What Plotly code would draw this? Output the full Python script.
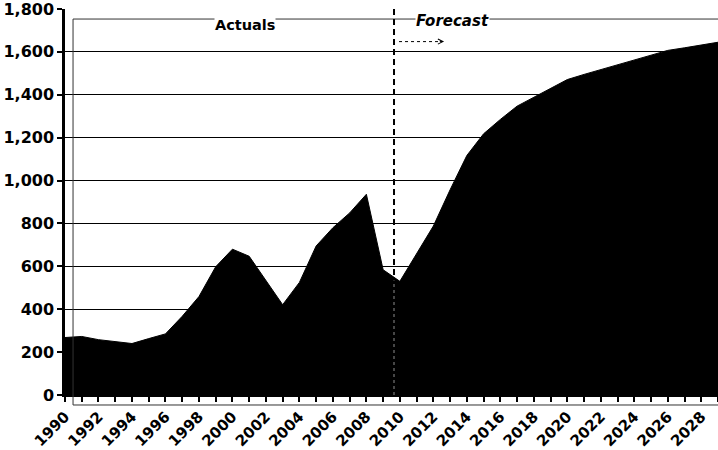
import numpy as np
import plotly.graph_objects as go

# Annual volumes: actuals through 2009, forecast from 2010
years = list(range(1990, 2030))
values = [268, 273, 258, 248, 240, 263, 285, 367, 459, 598,
          680, 647, 531, 421, 525, 695, 780, 849, 936, 584,
          530, 658, 788, 957, 1117, 1218, 1285, 1347, 1388, 1432,
          1471, 1495, 1518, 1541, 1563, 1584, 1607, 1619, 1632, 1645]

year_labels = ["1990", "", "1992", "", "1994", "", "1996", "", "1998", "",
               "2000", "", "2002", "", "2004", "", "2006", "", "2008", "",
               "2010", "", "2012", "", "2014", "", "2016", "", "2018", "",
               "2020", "", "2022", "", "2024", "", "2026", "", "2028", ""]

y_ticks = [0, 200, 400, 600, 800, 1000, 1200, 1400, 1600, 1800]
y_labels = ["0", "200", "400", "600", "800", "1,000", "1,200", "1,400", "1,600", "1,800"]

split_year = 2009.65  # boundary between actuals and forecast

fig = go.Figure()
fig.add_trace(go.Scatter(
    x=years, y=values, mode="lines", fill="tozeroy",
    line=dict(color="black", width=1), fillcolor="black",
    hoverinfo="x+y",
))

# offset frame around the plot area
frame = dict(type="line", xref="paper", yref="paper", layer="above",
             line=dict(color="#333333", width=1))
fig.add_shape(**frame, x0=0.0123, x1=0.0123, y0=-0.0259, y1=0.974)
fig.add_shape(**frame, x0=0.0123, x1=1.01, y0=0.974, y1=0.974)
fig.add_shape(**frame, x0=0.0123, x1=1.01, y0=-0.0259, y1=-0.0259)

# actuals / forecast divider
fig.add_shape(type="line", xref="x", yref="y", x0=split_year, x1=split_year,
              y0=0, y1=1800, layer="above",
              line=dict(color="black", width=2, dash="6px,4px"))
fig.add_shape(type="line", xref="x", yref="y", x0=split_year, x1=split_year,
              y0=0, y1=float(np.interp(split_year, years, values)) - 15, layer="above",
              line=dict(color="rgba(255,255,255,0.55)", width=1, dash="dot"))

# dotted forecast arrow
fig.add_shape(type="line", xref="x", yref="y", x0=2009.95, x1=2012.45,
              y0=1648, y1=1648, layer="above",
              line=dict(color="black", width=1, dash="dot"))
fig.add_annotation(x=2012.64, y=1648, ax=2012.3, ay=1648, axref="x", ayref="y",
                   xref="x", yref="y", text="", showarrow=True,
                   arrowhead=5, arrowsize=1, arrowwidth=1, arrowcolor="black")

fig.add_annotation(x=2000.75, y=1726, xref="x", yref="y", text="Actuals",
                   showarrow=False, bgcolor="white", borderpad=0,
                   font=dict(family="DejaVu Sans", size=14.5, color="black",
                             weight="bold"))
fig.add_annotation(x=2013.12, y=1744, xref="x", yref="y", text="Forecast",
                   showarrow=False, bgcolor="white", borderpad=0,
                   font=dict(family="DejaVu Sans", size=15, color="black",
                             style="italic", weight="bold"))

fig.update_layout(
    width=718, height=450,
    margin=dict(l=65, r=0, t=9, b=55),
    paper_bgcolor="white", plot_bgcolor="white",
    showlegend=False,
    font=dict(family="DejaVu Sans", color="black"),
)
fig.update_xaxes(
    range=[1990, 2029], tickmode="array", tickvals=years, ticktext=year_labels,
    tickangle=-45, ticks="outside", ticklen=5, tickwidth=1.5, tickcolor="black",
    showline=True, linecolor="black", linewidth=2,
    showgrid=False, zeroline=False, ticklabeloverflow="allow",
    tickfont=dict(family="DejaVu Sans", size=15, weight="bold", color="black"),
)
fig.update_yaxes(
    range=[0, 1800], tickmode="array", tickvals=y_ticks, ticktext=y_labels,
    ticks="outside", ticklen=5, tickwidth=1.5, tickcolor="black",
    showline=True, linecolor="black", linewidth=2.5,
    showgrid=True, gridcolor="black", gridwidth=1.3, zeroline=False,
    ticklabeloverflow="allow",
    tickfont=dict(family="DejaVu Sans", size=16, weight="bold", color="black"),
)

fig.write_html("out.html")
